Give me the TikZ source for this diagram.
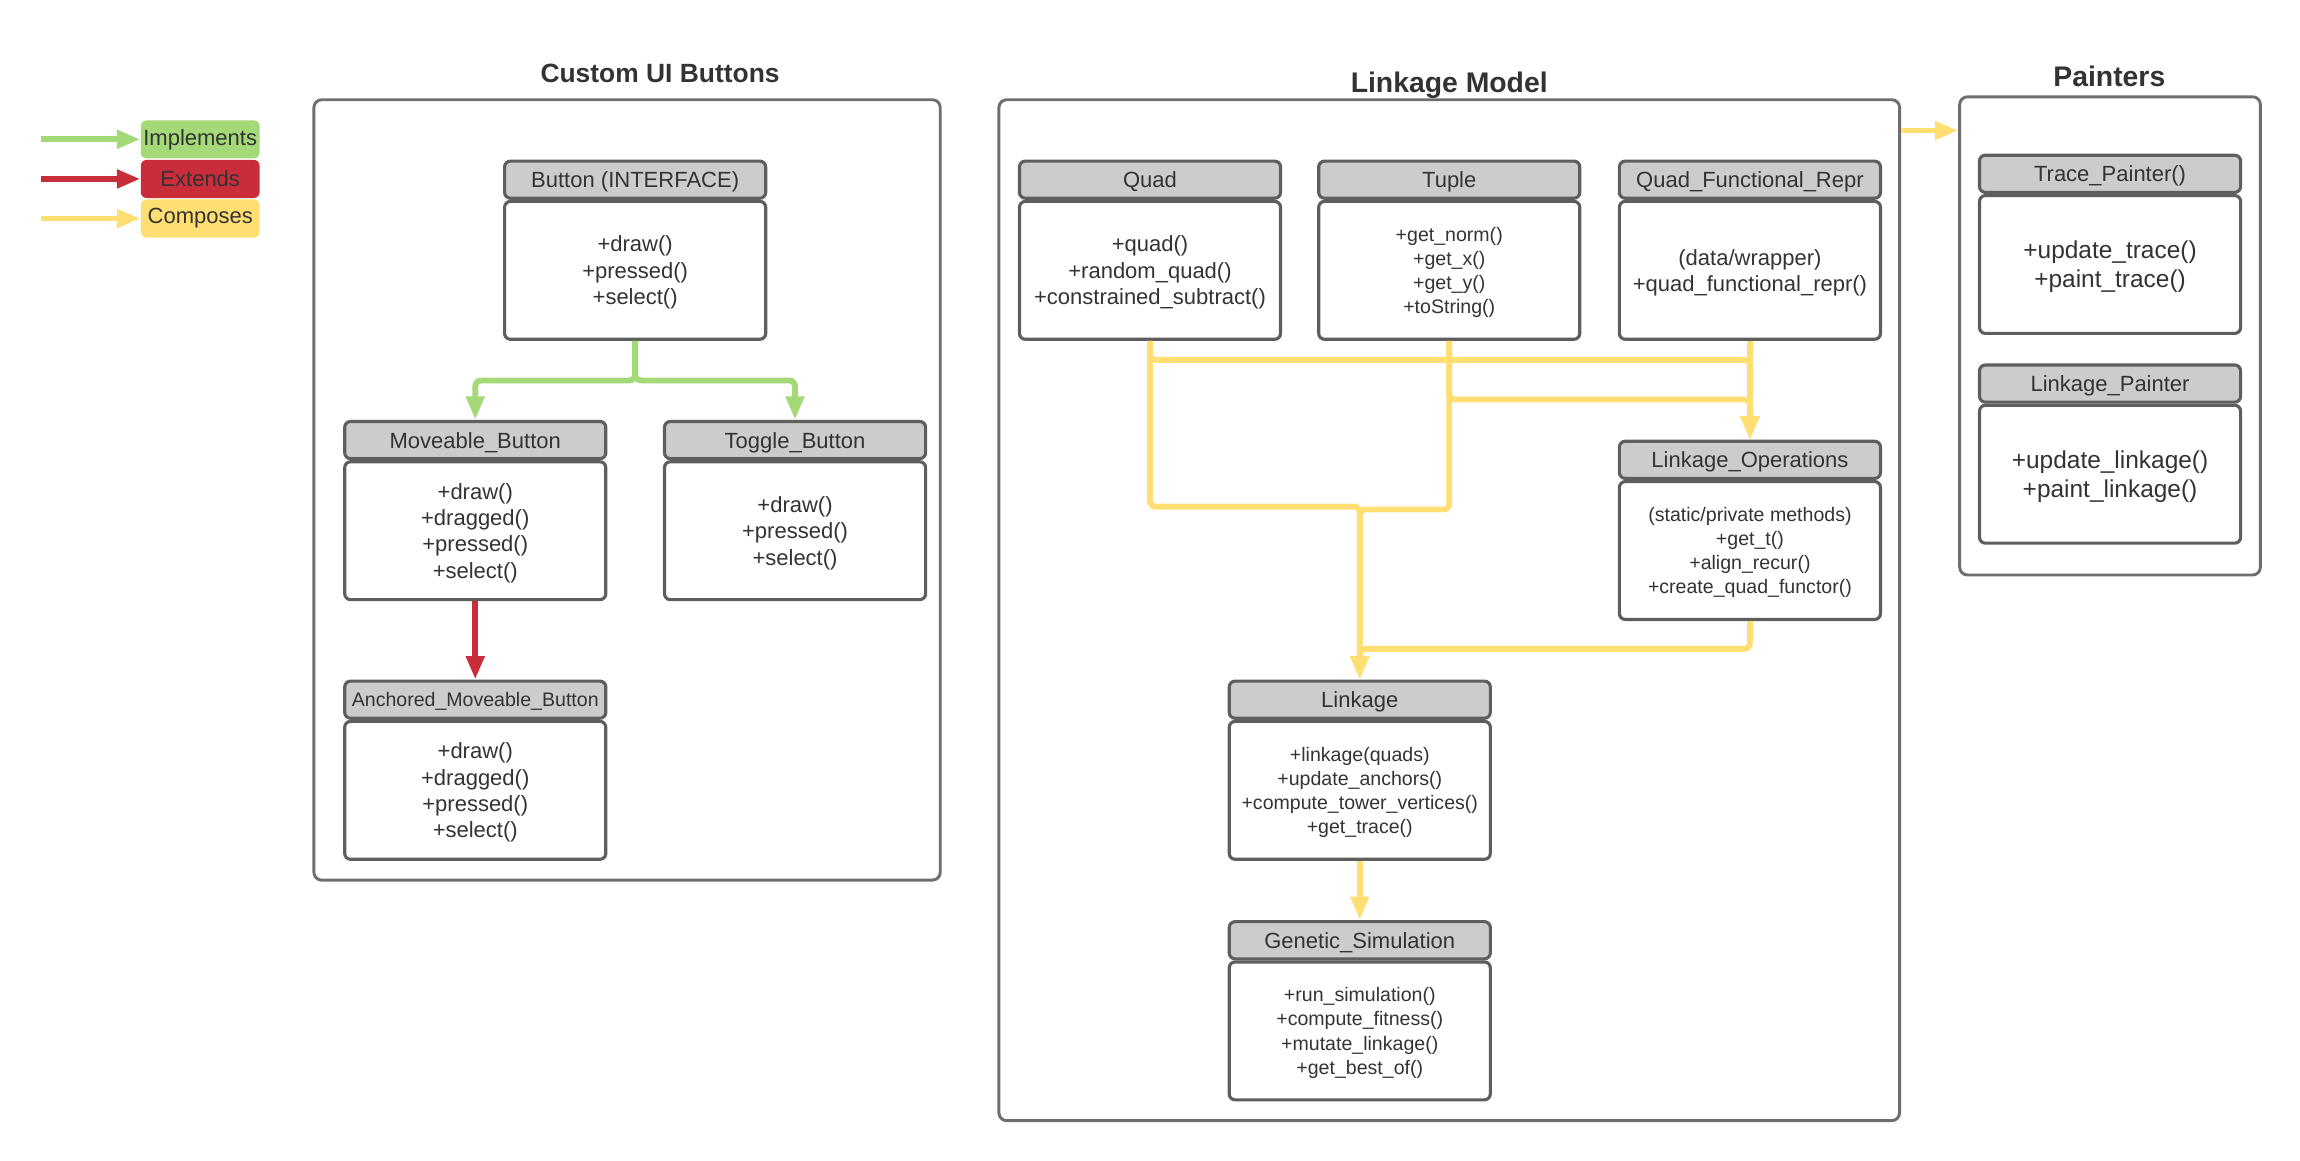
\documentclass[tikz,border=0pt]{standalone}
\usepackage{fontspec}
\setmainfont{Liberation Sans}
\usetikzlibrary{arrows.meta,positioning}
\definecolor{implgreen}{HTML}{A3D977}
\definecolor{extred}{HTML}{C92D39}
\definecolor{compyellow}{HTML}{FFDF71}
\definecolor{hdrgray}{HTML}{CCCCCC}
\definecolor{lnegray}{HTML}{5E5E5E}
\definecolor{txtgray}{HTML}{333333}
\tikzset{
  hdr/.style={draw=lnegray,fill=hdrgray,rounded corners=3pt,line width=1.6pt,minimum width=133.5pt,minimum height=19pt,inner sep=1pt,text depth=0pt,text=txtgray,font=\fontsize{11.25}{13.5}\selectfont},
  smallhdr/.style={hdr,font=\fontsize{10}{12}\selectfont},
  mbody/.style={draw=lnegray,fill=white,rounded corners=3pt,line width=1.6pt,minimum width=133.5pt,minimum height=70.5pt,inner sep=1pt,text depth=0pt,align=center,text=txtgray,font=\fontsize{11.25}{13.5}\selectfont},
  smallbody/.style={mbody,font=\fontsize{10}{12.4}\selectfont},
  bigbody/.style={mbody,font=\fontsize{12.5}{15}\selectfont},
  frm/.style={draw=lnegray!90,line width=1.5pt,rounded corners=4pt},
  ttl/.style={text=txtgray,font=\fontsize{14.5}{17}\selectfont\bfseries},
  lgd/.style={rounded corners=3pt,minimum width=60.75pt,minimum height=19.5pt,inner sep=0pt,text=txtgray,font=\fontsize{11.25}{13.5}\selectfont},
  impl/.style={-{Triangle[length=12pt,width=9pt]},implgreen,line width=3pt,rounded corners=3pt},
  ext/.style={impl,extred},
  comp/.style={impl,compyellow}
}

\begin{document}
\begin{tikzpicture}[x=0.75pt,y=-0.75pt]
  \useasboundingbox (0,0) rectangle (1568,791);
  % Frames and titles
  \node[frm,minimum width=320.25pt,minimum height=399pt] (uifrm) at (427.5,334) {};
  \node[frm,minimum width=460.5pt,minimum height=522pt] (lmfrm) at (988,416) {};
  \node[frm,minimum width=153.75pt,minimum height=244.5pt] (pfrm) at (1438.5,229) {};
  \node[ttl,font=\fontsize{13.5}{16}\selectfont\bfseries] (uittl) at (450,50) {Custom UI Buttons};
  \node[ttl] (lmttl) at (988,58) {Linkage Model};
  \node[ttl] (pttl) at (1438,52) {Painters};

  % Legend
  \node[lgd,fill=implgreen] (limpl) at (136.5,95) {Implements};
  \node[lgd,fill=extred] (lext) at (136.5,122) {Extends};
  \node[lgd,fill=compyellow] (lcomp) at (136.5,149) {Composes};
  \coordinate (limplin) at (28,95);
  \coordinate (lextin) at (28,122);
  \coordinate (lcompin) at (28,149);
  \draw[impl] (limplin) -- (limpl.west);
  \draw[ext] (lextin) -- (lext.west);
  \draw[comp] (lcompin) -- (lcomp.west);

  % Custom UI Buttons
  \node[hdr] (btn) at (433,122.5) {Button (INTERFACE)};
  \node[mbody,below=0pt of btn] (btnb) {+draw()\\+pressed()\\+select()};
  \node[hdr] (mov) at (324,300) {Moveable\_Button};
  \node[mbody,below=0pt of mov] (movb) {+draw()\\+dragged()\\+pressed()\\+select()};
  \node[hdr] (tog) at (542,300) {Toggle\_Button};
  \node[mbody,below=0pt of tog] (togb) {+draw()\\+pressed()\\+select()};
  \node[smallhdr] (anc) at (324,477) {Anchored\_Moveable\_Button};
  \node[mbody,below=0pt of anc] (ancb) {+draw()\\+dragged()\\+pressed()\\+select()};

  \draw[impl] (btnb.south) -- ++(0,27) -| (mov.north);
  \draw[impl] (btnb.south) -- ++(0,27) -| (tog.north);
  \draw[ext] (movb.south) -- (anc.north);

  % Linkage Model
  \node[hdr] (quad) at (784,122.5) {Quad};
  \node[mbody,below=0pt of quad] (quadb) {+quad()\\+random\_quad()\\+constrained\_subtract()};
  \node[hdr] (tup) at (988,122.5) {Tuple};
  \node[smallbody,below=0pt of tup] (tupb) {+get\_norm()\\+get\_x()\\+get\_y()\\+toString()};
  \node[hdr] (qfr) at (1193,122.5) {Quad\_Functional\_Repr};
  \node[mbody,below=0pt of qfr] (qfrb) {(data/wrapper)\\+quad\_functional\_repr()};
  \node[hdr] (lops) at (1193,313.5) {Linkage\_Operations};
  \node[smallbody,below=0pt of lops] (lopsb) {(static/private methods)\\+get\_t()\\+align\_recur()\\+create\_quad\_functor()};
  \node[hdr] (link) at (927,477) {Linkage};
  \node[smallbody,below=0pt of link] (linkb) {+linkage(quads)\\+update\_anchors()\\+compute\_tower\_vertices()\\+get\_trace()};
  \node[hdr] (gen) at (927,641) {Genetic\_Simulation};
  \node[smallbody,below=0pt of gen] (genb) {+run\_simulation()\\+compute\_fitness()\\+mutate\_linkage()\\+get\_best\_of()};

  \draw[comp] (quadb.south) -- ++(0,13) -| (lops.north);
  \draw[comp] (tupb.south) -- ++(0,40) -| (lops.north);
  \draw[comp] (qfrb.south) -- (lops.north);
  \draw[comp] (quadb.south) -- ++(0,113) -| (link.north);
  \draw[comp] (tupb.south) -- ++(0,115) -| (link.north);
  \draw[comp] (lopsb.south) -- ++(0,19) -| (link.north);
  \draw[comp] (linkb.south) -- (gen.north);

  % Painters
  \node[hdr] (trace) at (1438.5,118.5) {Trace\_Painter()};
  \node[bigbody,below=0pt of trace] (traceb) {+update\_trace()\\+paint\_trace()};
  \node[hdr] (lpaint) at (1438.5,261.5) {Linkage\_Painter};
  \node[bigbody,below=0pt of lpaint] (lpaintb) {+update\_linkage()\\+paint\_linkage()};

  \coordinate (lmout) at ([yshift=-16.5pt]lmfrm.north east);
  \draw[comp] (lmout) -- (lmout -| pfrm.west);
\end{tikzpicture}
\end{document}
